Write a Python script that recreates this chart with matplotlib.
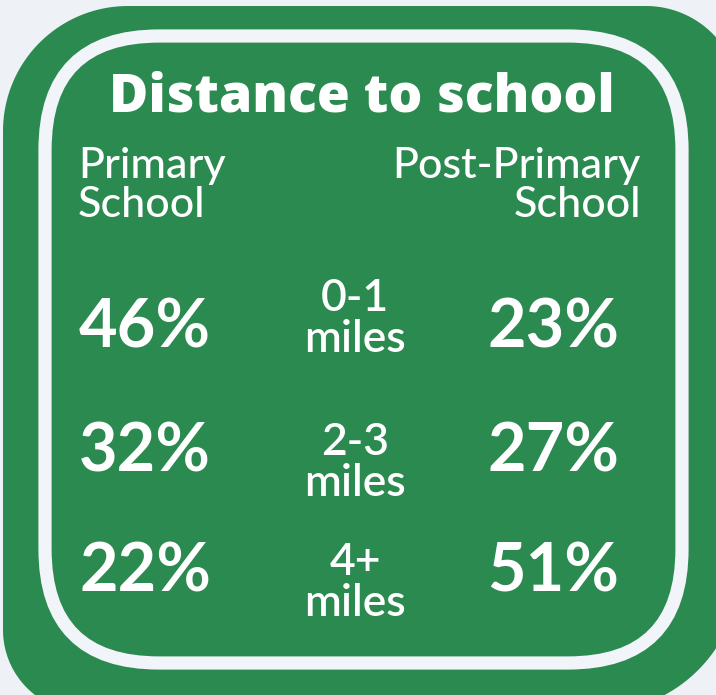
import numpy as np
import matplotlib.pyplot as plt
from matplotlib.patches import FancyBboxPatch, Polygon

# data
title = "Distance to school"
distances = ["0-1", "2-3", "4+"]
primary = [46, 32, 22]
post_primary = [23, 27, 51]

GREEN = "#2b8a50"
LIGHT = "#eef2f7"

plt.rcParams['font.family'] = ['Lato', 'DejaVu Sans']


def rounded_rect(x0, y0, x1, y1, r_tl, r_tr, r_br, r_bl, n=40):
    # y grows downward here (axes are inverted)
    t = np.linspace(0, np.pi / 2, n)
    pts = []
    pts += list(zip(x0 + r_tl - r_tl * np.cos(t), y0 + r_tl - r_tl * np.sin(t)))
    pts += list(zip(x1 - r_tr + r_tr * np.sin(t), y0 + r_tr - r_tr * np.cos(t)))
    pts += list(zip(x1 - r_br + r_br * np.cos(t), y1 - r_br + r_br * np.sin(t)))
    pts += list(zip(x0 + r_bl - r_bl * np.sin(t), y1 - r_bl + r_bl * np.cos(t)))
    return pts


fig = plt.figure(figsize=(7.16, 6.95), dpi=100)
fig.patch.set_facecolor(LIGHT)
ax = fig.add_axes([0, 0, 1, 1])
ax.set_xlim(0, 716)
ax.set_ylim(695, 0)
ax.axis("off")

# outer green panel (runs off the right / bottom edges)
ax.add_patch(Polygon(rounded_rect(3, 6, 740, 712, 125, 94, 143, 82), closed=True,
                     fc=GREEN, ec="none"))
# white ring
ax.add_patch(FancyBboxPatch((45, 36), 637, 627, boxstyle="round,pad=0,rounding_size=114",
                            fc="none", ec="#f1f4f8", lw=9.5))

ax.text(362, 112, title, ha="center", va="baseline", fontsize=38.5,
        fontweight="heavy", color="white", family=["Open Sans", "DejaVu Sans"])

hs = 31
ax.text(78, 178, "Primary", ha="left", va="baseline", fontsize=hs, fontweight="medium", color="white")
ax.text(78, 217, "School", ha="left", va="baseline", fontsize=hs, fontweight="medium", color="white")
ax.text(641, 178, "Post-Primary", ha="right", va="baseline", fontsize=hs, fontweight="medium", color="white")
ax.text(641, 217, "School", ha="right", va="baseline", fontsize=hs, fontweight="medium", color="white")

row_base = [348, 472, 592]
for i, d in enumerate(distances):
    yb = row_base[i]
    ax.text(145, yb, f"{primary[i]}%", ha="center", va="baseline", fontsize=48,
            fontweight="bold", color="white")
    ax.text(553, yb, f"{post_primary[i]}%", ha="center", va="baseline", fontsize=48,
            fontweight="bold", color="white")
    off = 4 if i == 0 else 24
    ax.text(355, yb + off - 41, d, ha="center", va="baseline", fontsize=32,
            fontweight="semibold", color="white")
    ax.text(355, yb + off, "miles", ha="center", va="baseline", fontsize=32,
            fontweight="semibold", color="white")

fig.savefig("out.png", dpi=100, facecolor=LIGHT)
